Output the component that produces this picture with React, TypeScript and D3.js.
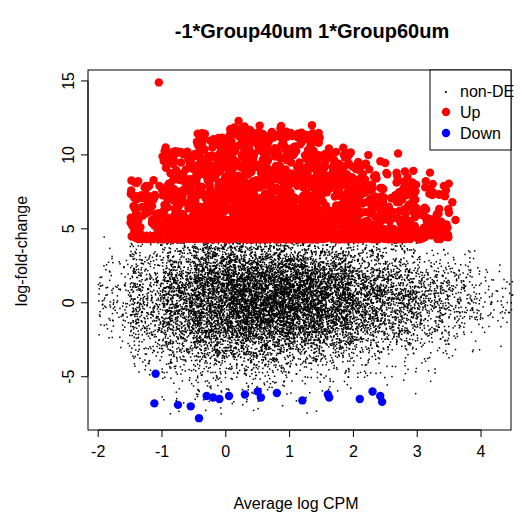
import { useMemo } from "react";
import * as d3 from "d3";

// Axis ticks and labels
const xTicks = [-2, -1, 0, 1, 2, 3, 4];
const yTicks = [-5, 0, 5, 10, 15];
const legendLabels = ["non-DE", "Up", "Down"];

// Down-regulated genes (individually readable)
const downX = [-1.1, -1.12, -0.75, -0.55, -0.42, -0.3, -0.2, -0.1, 0.05, 0.3, 0.5, 0.55, 0.8, 1.2, 1.6, 1.62, 2.1, 2.3, 2.42, 2.45];
const downY = [-4.8, -6.8, -6.9, -7.0, -7.8, -6.3, -6.4, -6.5, -6.3, -6.2, -6.0, -6.4, -6.1, -6.6, -6.2, -6.4, -6.5, -6.0, -6.3, -6.7];

// Isolated up-regulated genes at the rim of the red cloud
const upEdgeX = [-1.05, -1.4, -1.3, -1.2, 3.35, 3.45, 3.55, 3.6, 3.2, 2.95, 2.7, 1.85, 1.35, 0.2, 0.25];
const upEdgeY = [14.9, 8.1, 5.9, 7.9, 7.3, 7.6, 6.8, 5.6, 8.8, 6.4, 10.1, 10.0, 12.0, 12.3, 11.8];

// Envelope of the dense clouds, read per 0.5 CPM bin: [x, count share, black spread, red top]
const binX = [-1.75, -1.25, -0.75, -0.25, 0.25, 0.75, 1.25, 1.75, 2.25, 2.75, 3.25, 3.75, 4.25];
const binShare = [0.01, 0.04, 0.08, 0.13, 0.16, 0.16, 0.14, 0.11, 0.07, 0.05, 0.03, 0.015, 0.005];
const binSpread = [2.2, 3.0, 3.3, 3.4, 3.2, 3.0, 2.9, 2.9, 2.9, 2.7, 2.4, 2.0, 1.4];
const binRedTop = [0, 8.3, 10.5, 11.5, 12, 12, 11.5, 10.5, 10.0, 9.0, 8.3, 0, 0];

function seeded(seed: number) {
  let s = seed;
  return () => {
    s = (s * 1664525 + 1013904223) % 4294967296;
    return s / 4294967296;
  };
}

export default function App() {
  const width = 522, height = 520;
  const left = 88, right = 511, top = 70, bottom = 430;
  const x = d3.scaleLinear().domain([-2.16, 4.47]).range([left, right]);
  const y = d3.scaleLinear().domain([15.74, -8.6]).range([top, bottom]);

  const { black, red } = useMemo(() => {
    const rnd = seeded(7);
    const norm = () => {
      const u = rnd() || 1e-9, v = rnd();
      return Math.sqrt(-2 * Math.log(u)) * Math.cos(2 * Math.PI * v);
    };
    const black: [number, number][] = [];
    const red: [number, number][] = [];
    binX.forEach((bx, i) => {
      const nb = Math.round(binShare[i] * 12000);
      for (let k = 0; k < nb; k++) {
        const px = bx - 0.25 + rnd() * 0.5;
        let py = norm() * binSpread[i] * 0.72 + 0.2;
        if (py > 5) py = 5 - rnd() * 1.5;
        if (py < -7.5) py = -7.5 + rnd();
        black.push([px, py]);
      }
      if (binRedTop[i] > 0) {
        const nr = Math.round(binShare[i] * 2200);
        for (let k = 0; k < nr; k++) {
          const px = bx - 0.25 + rnd() * 0.5;
          const span = binRedTop[i] - 4.3;
          const py = 4.3 + span * Math.pow(rnd(), 1.9);
          red.push([px, py]);
        }
      }
    });
    return { black, red };
  }, []);

  const font = "'Liberation Sans', Arial, sans-serif";

  return (
    <svg width={width} height={height} style={{ position: "absolute", left: 0, top: 0 }} fontFamily={font}>
      <rect width={width} height={height} fill="white" />
      <text x={312} y={38} textAnchor="middle" fontSize={20} fontWeight="bold">-1*Group40um 1*Group60um</text>
      <g>
        {black.map(([a, b], i) => (
          <rect key={"k" + i} x={x(a) - 0.7} y={y(b) - 0.7} width={1.5} height={1.5} fill="black" />
        ))}
        {red.concat(upEdgeX.map((v, i) => [v, upEdgeY[i]] as [number, number])).map(([a, b], i) => (
          <circle key={"r" + i} cx={x(a)} cy={y(b)} r={4.2} fill="red" />
        ))}
        {downX.map((v, i) => (
          <circle key={"b" + i} cx={x(v)} cy={y(downY[i])} r={4.2} fill="blue" />
        ))}
      </g>
      <rect x={left} y={top} width={right - left} height={bottom - top} fill="none" stroke="black" />
      {/* x axis */}
      <line x1={x(-2)} x2={x(4)} y1={bottom} y2={bottom} stroke="black" />
      {xTicks.map((t) => (
        <g key={t}>
          <line x1={x(t)} x2={x(t)} y1={bottom} y2={bottom + 7} stroke="black" />
          <text x={x(t)} y={bottom + 27} textAnchor="middle" fontSize={16}>{t}</text>
        </g>
      ))}
      <text x={x(1.1)} y={bottom + 79} textAnchor="middle" fontSize={16}>Average log CPM</text>
      {/* y axis */}
      <line x1={left} x2={left} y1={y(15)} y2={y(-5)} stroke="black" />
      {yTicks.map((t) => (
        <g key={t}>
          <line x1={left} x2={left - 7} y1={y(t)} y2={y(t)} stroke="black" />
          <text transform={`translate(${left - 14},${y(t)}) rotate(-90)`} textAnchor="middle" fontSize={16}>{t}</text>
        </g>
      ))}
      <text transform={`translate(27,${y(3.5)}) rotate(-90)`} textAnchor="middle" fontSize={16}>log-fold-change</text>
      {/* legend */}
      <rect x={430} y={top} width={81} height={80} fill="white" stroke="black" />
      {legendLabels.map((l, i) => (
        <g key={l}>
          {i === 0
            ? <rect x={445} y={91} width={1.8} height={1.8} fill="black" />
            : <circle cx={446} cy={91 + i * 21} r={4.2} fill={i === 1 ? "red" : "blue"} />}
          <text x={460} y={97 + i * 21} fontSize={16}>{l}</text>
        </g>
      ))}
    </svg>
  );
}
